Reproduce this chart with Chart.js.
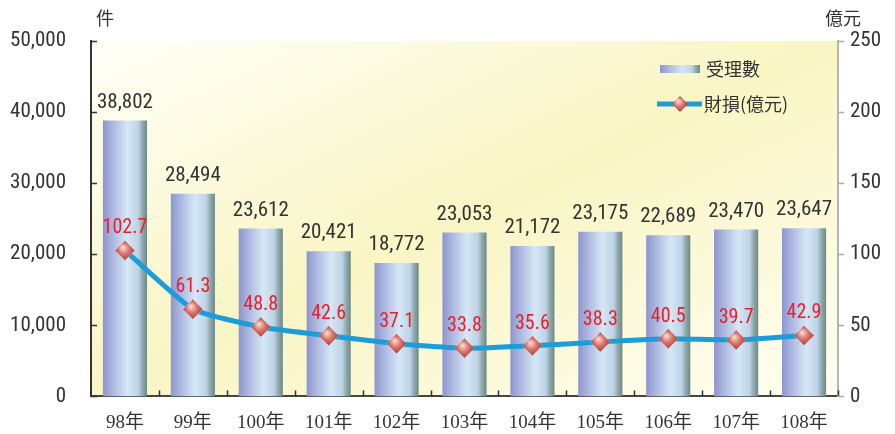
<!DOCTYPE html>
<html>
<head>
<meta charset="utf-8">
<script src="https://cdn.jsdelivr.net/npm/chart.js@4.4.1/dist/chart.umd.min.js"></script>
<style>
  html, body { margin: 0; padding: 0; background: #fff; }
  #wrap { width: 895px; height: 434px; }
</style>
</head>
<body>
<div id="wrap"><canvas id="chart" width="895" height="434"></canvas></div>
<script>
const years  = ['98年', '99年', '100年', '101年', '102年', '103年', '104年', '105年', '106年', '107年', '108年']
const cases  = [38802, 28494, 23612, 20421, 18772, 23053, 21172, 23175, 22689, 23470, 23647]
const losses = [102.7, 61.3, 48.8, 42.6, 37.1, 33.8, 35.6, 38.3, 40.5, 39.7, 42.9]

const NARROW = '"Liberation Sans Narrow", "Roboto Condensed", "Liberation Sans", sans-serif'
const SERIF  = '"Liberation Serif", "Noto Sans CJK TC", serif'
const CJK    = '"Noto Sans CJK TC", sans-serif'
const LINE_BLUE = '#1b9dd9'

function barGradient(ctx, x0, w) {
  const g = ctx.createLinearGradient(x0, 0, x0 + w, 0)
  g.addColorStop(0.00, '#8d95cd')
  g.addColorStop(0.18, '#a7b1dd')
  g.addColorStop(0.55, '#d6e7f6')
  g.addColorStop(0.80, '#bdd3e7')
  g.addColorStop(0.90, '#8fa8ab')
  g.addColorStop(1.00, '#6d8985')
  return g
}

function diamondGradient(ctx, x, y, r) {
  const g = ctx.createRadialGradient(x - 2, y - 3, 1, x, y, r)
  g.addColorStop(0, '#f6d2c8')
  g.addColorStop(0.45, '#d9726a')
  g.addColorStop(1, '#9c3530')
  return g
}

function barColor(c) {
  const chart = c.chart
  const xs = chart.scales.x
  if (!xs || c.dataIndex == null) return '#b8c4e4'
  const step = xs.getPixelForValue(1) - xs.getPixelForValue(0)
  const w = step * 0.65
  const cx = xs.getPixelForValue(c.dataIndex)
  if (!isFinite(cx) || !isFinite(w) || w <= 0) return '#b8c4e4'
  return barGradient(chart.ctx, cx - w / 2, w)
}

function diamondColor(c) {
  const chart = c.chart
  const xs = chart.scales.x, ys = chart.scales.y1
  if (!xs || !ys || c.dataIndex == null) return '#c0504d'
  const x = xs.getPixelForValue(c.dataIndex)
  const y = ys.getPixelForValue(losses[c.dataIndex])
  if (!isFinite(x) || !isFinite(y)) return '#c0504d'
  return diamondGradient(chart.ctx, x, y, 11)
}

// diagonal yellow wash behind the plot
const bgPlugin = {
  id: 'bg',
  beforeDraw(chart) {
    const { ctx, chartArea: a } = chart
    const w = a.right - a.left, h = a.bottom - a.top
    const cx = a.left + w / 2, cy = a.top + h / 2
    const n = Math.sqrt(w * w + h * h)
    const ux = h / n, uy = w / n, L = w * h / n
    const g = ctx.createLinearGradient(cx - ux * L, cy - uy * L, cx + ux * L, cy + uy * L)
    g.addColorStop(0, '#fffff8')
    g.addColorStop(0.5, '#f9f5c4')
    g.addColorStop(1, '#fffef2')
    ctx.save()
    ctx.fillStyle = g
    ctx.fillRect(a.left, a.top, w, h)
    ctx.restore()
  },
}

const decoPlugin = {
  id: 'deco',
  afterDraw(chart) {
    const { ctx, chartArea: a } = chart
    const xs = chart.scales.x, ys = chart.scales.y, y1 = chart.scales.y1
    ctx.save()

    // tick marks
    ctx.lineWidth = 1.5
    ctx.strokeStyle = '#333'
    for (let v = 0; v <= 50000; v += 10000) {
      const y = Math.round(ys.getPixelForValue(v)) + 0.5
      ctx.beginPath(); ctx.moveTo(a.left, y); ctx.lineTo(a.left + 6, y); ctx.stroke()
    }
    const step = xs.getPixelForValue(1) - xs.getPixelForValue(0)
    for (let i = 0; i < years.length; i++) {
      const x = Math.round(xs.getPixelForValue(i) + step / 2) + 0.5
      ctx.beginPath(); ctx.moveTo(x, a.bottom); ctx.lineTo(x, a.bottom - 6); ctx.stroke()
    }
    ctx.strokeStyle = '#aaa'
    for (let v = 0; v <= 250; v += 50) {
      const y = Math.round(y1.getPixelForValue(v)) + 0.5
      ctx.beginPath(); ctx.moveTo(a.right, y); ctx.lineTo(a.right + 6, y); ctx.stroke()
    }

    // value labels
    ctx.textAlign = 'center'
    ctx.textBaseline = 'alphabetic'
    ctx.font = '21px ' + NARROW
    ctx.fillStyle = '#333'
    chart.getDatasetMeta(0).data.forEach((el, i) => {
      ctx.fillText(cases[i].toLocaleString('en-US'), el.x, el.y - 13)
    })
    ctx.fillStyle = '#e8202a'
    ctx.font = '20px ' + NARROW
    chart.getDatasetMeta(1).data.forEach((el, i) => {
      ctx.fillText(losses[i].toFixed(1), el.x, el.y - 17)
    })

    // unit labels
    ctx.fillStyle = '#333'
    ctx.font = '18px ' + CJK
    ctx.textBaseline = 'middle'
    ctx.fillText('件', 105, 18)
    ctx.fillText('億元', 843, 18)

    // legend
    ctx.fillStyle = barGradient(ctx, 660, 40)
    ctx.fillRect(660, 65, 40, 8)
    ctx.strokeStyle = LINE_BLUE
    ctx.lineWidth = 5
    ctx.beginPath(); ctx.moveTo(657, 104); ctx.lineTo(702, 104); ctx.stroke()
    ctx.fillStyle = diamondGradient(ctx, 680, 104, 9)
    ctx.beginPath()
    ctx.moveTo(680, 96); ctx.lineTo(688, 104); ctx.lineTo(680, 112); ctx.lineTo(672, 104)
    ctx.closePath(); ctx.fill()
    ctx.fillStyle = '#333'
    ctx.textAlign = 'left'
    ctx.font = '18px ' + CJK
    ctx.fillText('受理數', 706, 69)
    ctx.fillText('財損(億元)', 704, 104)

    ctx.restore()
  },
}

new Chart(document.getElementById('chart'), {
  data: {
    labels: years,
    datasets: [
      {
        type: 'bar',
        label: '受理數',
        data: cases,
        yAxisID: 'y',
        backgroundColor: barColor,
        borderWidth: 0,
        barPercentage: 0.65,
        categoryPercentage: 1,
        order: 2,
      },
      {
        type: 'line',
        label: '財損(億元)',
        data: losses,
        yAxisID: 'y1',
        borderColor: LINE_BLUE,
        borderWidth: 5,
        tension: 0.15,
        pointStyle: 'rectRot',
        pointRadius: 10,
        pointBackgroundColor: diamondColor,
        pointBorderColor: 'rgba(255,255,255,0.6)',
        pointBorderWidth: 0.5,
        order: 1,
      },
    ],
  },
  options: {
    responsive: false,
    animation: false,
    layout: { padding: { top: 41 } },
    plugins: {
      legend: { display: false },
      tooltip: { enabled: false },
    },
    scales: {
      x: {
        grid: { display: false, drawTicks: false },
        border: { color: '#444', width: 2 },
        ticks: { color: '#333', font: { family: SERIF, size: 19 }, padding: 15 },
        afterFit(s) { s.height = 35 },
      },
      y: {
        position: 'left',
        min: 0, max: 50000,
        grid: { display: false, drawTicks: false },
        border: { color: '#333', width: 2 },
        ticks: {
          stepSize: 10000,
          color: '#333',
          padding: 25,
          font: { family: NARROW, size: 21 },
          callback: v => v.toLocaleString('en-US'),
        },
        afterFit(s) { s.width = 91 },
      },
      y1: {
        position: 'right',
        min: 0, max: 250,
        grid: { display: false, drawTicks: false },
        border: { color: '#b5b5b5', width: 2 },
        ticks: { stepSize: 50, color: '#333', padding: 12, font: { family: NARROW, size: 21 } },
        afterFit(s) { s.width = 57 },
      },
    },
  },
  plugins: [bgPlugin, decoPlugin],
})
</script>
</body>
</html>
